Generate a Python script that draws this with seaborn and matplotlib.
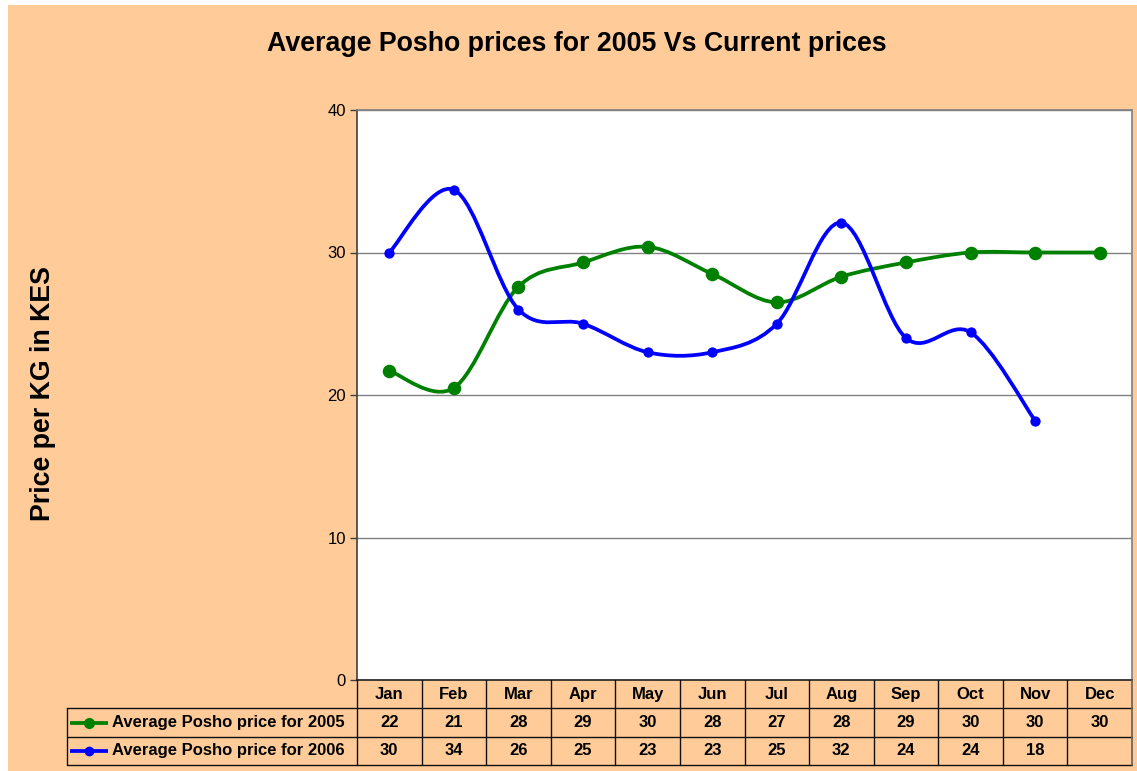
import numpy as np
import pandas as pd
import matplotlib
matplotlib.use("Agg")
import matplotlib.pyplot as plt
from matplotlib.path import Path
from matplotlib.patches import PathPatch, Rectangle
import seaborn as sns

months = ["Jan", "Feb", "Mar", "Apr", "May", "Jun", "Jul", "Aug", "Sep", "Oct", "Nov", "Dec"]
price_2005 = [21.7, 20.5, 27.6, 29.3, 30.4, 28.5, 26.5, 28.3, 29.3, 30.0, 30.0, 30.0]
price_2006 = [30.0, 34.4, 26.0, 25.0, 23.0, 23.0, 25.0, 32.1, 24.0, 24.4, 18.2]
table_2005 = ["22", "21", "28", "29", "30", "28", "27", "28", "29", "30", "30", "30"]
table_2006 = ["30", "34", "26", "25", "23", "23", "25", "32", "24", "24", "18", ""]
series_names = ["Average Posho price for 2005", "Average Posho price for 2006"]
y_ticks = [0, 10, 20, 30, 40]

PEACH = "#FFCC99"
GREEN = "#008000"
BLUE = "#0000FF"

sns.set_style("white")
plt.rcParams["font.family"] = ["Liberation Sans", "DejaVu Sans"]
plt.rcParams["text.color"] = "black"
plt.rcParams["ytick.color"] = "black"

W, H = 1137, 771
fig = plt.figure(figsize=(W / 100, H / 100), dpi=100)
fig.patch.set_facecolor("white")
# peach chart area, white strip on left and top
fig.add_artist(Rectangle((8 / W, 0), 1 - 8 / W, 1 - 5 / H, transform=fig.transFigure,
                         facecolor=PEACH, edgecolor="none", zorder=-10))


def px_box(x0, y0, x1, y1):
    return [x0 / W, 1 - y1 / H, (x1 - x0) / W, (y1 - y0) / H]


ax = fig.add_axes(px_box(357, 110, 1132, 680))
ax.set_facecolor("white")


def smooth_path(xs, ys):
    # Excel-like smoothed line: Catmull-Rom segments as cubic Beziers
    pts = np.column_stack([xs, ys]).astype(float)
    n = len(pts)
    verts = [pts[0]]
    codes = [Path.MOVETO]
    for i in range(n - 1):
        p0 = pts[max(i - 1, 0)]
        p1 = pts[i]
        p2 = pts[i + 1]
        p3 = pts[min(i + 2, n - 1)]
        c1 = p1 + (p2 - p0) / 6
        c2 = p2 - (p3 - p1) / 6
        verts += [c1, c2, p2]
        codes += [Path.CURVE4] * 3
    return Path(verts, codes)


df05 = pd.DataFrame({"x": range(len(price_2005)), "y": price_2005})
df06 = pd.DataFrame({"x": range(len(price_2006)), "y": price_2006})

for df, col in [(df05, GREEN), (df06, BLUE)]:
    ax.add_patch(PathPatch(smooth_path(df["x"], df["y"]), facecolor="none",
                           edgecolor=col, lw=2.7, zorder=3, capstyle="round"))

sns.scatterplot(data=df05, x="x", y="y", ax=ax, color=GREEN, s=95, edgecolor=GREEN,
                linewidth=0, zorder=4)
sns.scatterplot(data=df06, x="x", y="y", ax=ax, color=BLUE, s=55, edgecolor=BLUE,
                linewidth=0, zorder=4)

ax.set_xlim(-0.5, 11.5)
ax.set_ylim(0, 40)
ax.set_yticks(y_ticks)
ax.set_yticklabels([str(t) for t in y_ticks], fontsize=12)
ax.set_xticks([])
ax.set_xlabel("")
ax.set_ylabel("")
ax.grid(axis="y", color="#808080", lw=1)
ax.set_axisbelow(True)
ax.tick_params(axis="y", direction="out", length=5, width=1, color="#404040", pad=3, left=True)
for side, sp in ax.spines.items():
    sp.set_visible(True)
    sp.set_color("#808080")
    sp.set_linewidth(1.2)
ax.spines["left"].set_color("#404040")
ax.spines["bottom"].set_color("#202020")

fig.text(577 / W, 1 - 44 / H, "Average Posho prices for 2005 Vs Current prices",
         ha="center", va="center", fontsize=19.3, fontweight="bold")
fig.text(43 / W, 1 - 394 / H, "Price per KG in KES", ha="center", va="center",
         rotation=90, fontsize=19.3, fontweight="bold")

# data table below the plot
tab = fig.add_axes(px_box(67, 680, 1132, 765))
tab.set_facecolor("none")
left = -0.5 - (357 - 67) / ((1132 - 357) / 12)
tab.set_xlim(left, 11.5)
tab.set_ylim(3, 0)
tab.axis("off")

lc = "#101010"
for yy in [1, 2, 3]:
    tab.plot([left, 11.5], [yy, yy], color=lc, lw=1, clip_on=False)
tab.plot([left, left], [1, 3], color=lc, lw=1, clip_on=False)
for k in range(12):
    tab.plot([k - 0.5, k - 0.5], [0, 3], color=lc, lw=1, clip_on=False)
tab.plot([11.5, 11.5], [0, 3], color="#606060", lw=1.2, clip_on=False)

fs = 12
for k, m in enumerate(months):
    tab.text(k, 0.5, m, ha="center", va="center", fontsize=fs, fontweight="bold")
    tab.text(k, 1.5, table_2005[k], ha="center", va="center", fontsize=fs, fontweight="bold")
    tab.text(k, 2.5, table_2006[k], ha="center", va="center", fontsize=fs, fontweight="bold")

colw = (1132 - 357) / 12
for row, (name, col, ms) in enumerate(zip(series_names, [GREEN, BLUE], [7, 6])):
    yy = row + 1.5
    x0 = left + 3 / colw
    x1 = left + 41 / colw
    tab.plot([x0, x1], [yy, yy], color=col, lw=2.7, clip_on=False, solid_capstyle="butt")
    tab.plot([(x0 + x1) / 2], [yy], marker="o", color=col, ms=ms, clip_on=False)
    tab.text(left + 45 / colw, yy, name, ha="left", va="center", fontsize=fs, fontweight="bold")

fig.savefig("out.png", dpi=100, facecolor=fig.get_facecolor())
